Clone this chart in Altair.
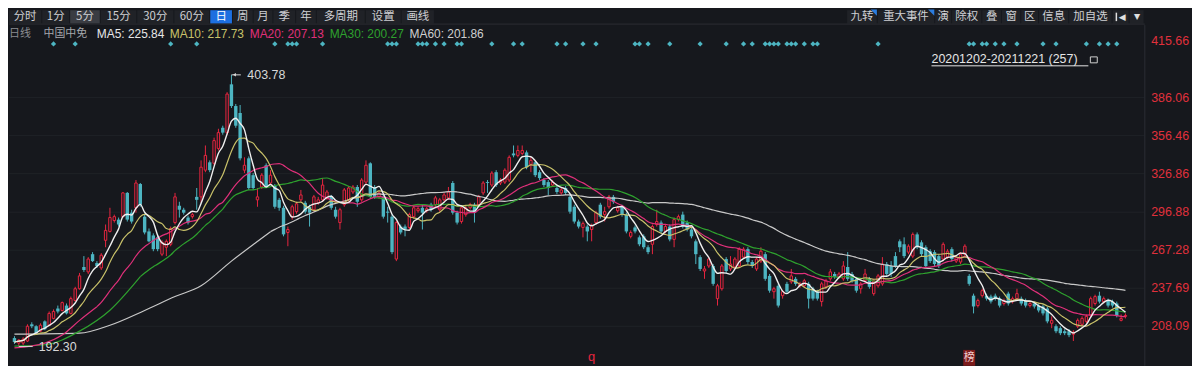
import altair as alt
import pandas as pd

# ---------------- data ----------------
opens = [198.9, 195.0, 195.0, 196.6, 209.6, 208.1, 204.3, 211.9, 208.9, 214.2,
         221.9, 220.4, 224.2, 218.1, 228.1, 237.3, 254.2, 250.4, 264.2, 257.3,
         253.5, 275.0, 281.9, 290.4, 291.1, 293.4, 311.9, 296.5, 300.3, 318.8,
         293.4, 281.9, 278.8, 277.3, 264.2, 269.6, 271.9, 288.8, 301.9, 298.8,
         292.7, 293.4, 308.8, 308.8, 329.6, 335.7, 334.9, 346.5, 362.6, 358.8,
         396.4, 379.5, 374.1, 329.6, 338.8, 325.7, 306.5, 316.5, 333.4, 319.6,
         317.3, 306.5, 300.3, 281.1, 293.4, 297.3, 306.5, 304.2, 301.1, 298.8,
         304.2, 306.5, 308.0, 308.8, 298.8, 288.8, 302.7, 306.5, 312.6, 316.5,
         306.5, 320.3, 334.9, 316.5, 308.8, 308.8, 297.3, 293.4, 260.4, 285.7,
         285.7, 285.0, 293.4, 298.0, 300.3, 298.0, 302.7, 302.7, 298.8, 306.5,
         308.0, 319.6, 296.5, 289.6, 295.0, 300.3, 302.7, 302.7, 311.9, 320.3,
         318.0, 328.0, 319.6, 320.3, 321.9, 342.6, 341.1, 342.6, 343.4, 334.2,
         335.7, 328.0, 321.9, 320.3, 318.0, 315.7, 311.9, 315.7, 308.8, 301.1,
         289.6, 285.0, 285.7, 283.4, 288.8, 302.7, 295.0, 301.1, 308.8, 298.0,
         301.1, 295.0, 278.1, 285.0, 277.3, 278.1, 269.6, 271.9, 287.3, 288.8,
         281.9, 285.7, 275.7, 291.1, 295.0, 288.8, 283.4, 274.2, 261.9, 251.1,
         255.0, 255.0, 229.6, 237.3, 260.4, 252.7, 254.2, 255.0, 261.9, 268.1,
         258.1, 252.7, 258.8, 264.2, 247.3, 235.0, 239.6, 231.9, 241.1, 242.7,
         245.0, 239.6, 239.6, 241.1, 237.3, 235.0, 227.3, 238.8, 245.0, 248.8,
         246.5, 245.0, 254.2, 248.8, 245.0, 237.3, 243.5, 245.0, 233.5, 239.6,
         241.1, 256.5, 255.0, 262.7, 274.2, 271.9, 265.8, 262.7, 279.6, 273.4,
         269.6, 266.5, 265.8, 262.7, 260.4, 261.9, 268.1, 258.8, 258.1, 264.2,
         247.3, 231.9, 224.2, 231.9, 231.9, 231.2, 231.9, 229.6, 225.8, 233.5,
         227.3, 229.6, 229.6, 228.1, 224.2, 225.8, 224.2, 223.5, 221.9, 210.4,
         208.1, 206.6, 204.2, 204.2, 201.9, 208.1, 209.6, 211.9, 216.5, 225.8,
         231.9, 227.3, 228.1, 227.3, 225.8, 212.7, 215.8]
highs = [200.4, 198.1, 199.6, 209.6, 211.2, 208.9, 210.4, 212.7, 219.6, 221.2,
         224.2, 227.3, 225.8, 231.2, 238.8, 249.6, 262.7, 261.9, 265.8, 258.8,
         265.0, 287.3, 300.3, 295.0, 292.7, 312.6, 312.6, 298.8, 321.9, 319.6,
         295.7, 284.2, 280.4, 278.8, 275.0, 275.7, 285.7, 311.9, 305.0, 300.3,
         294.2, 296.5, 315.7, 337.2, 348.8, 337.2, 354.9, 361.8, 364.2, 390.3,
         403.78, 381.1, 380.3, 339.6, 340.3, 327.3, 315.7, 327.3, 334.9, 329.6,
         318.8, 308.0, 301.9, 285.7, 302.7, 305.0, 314.2, 305.7, 302.7, 310.3,
         308.8, 323.4, 314.2, 310.3, 301.1, 300.3, 315.7, 317.3, 318.0, 318.0,
         323.4, 337.2, 335.7, 318.0, 313.4, 310.3, 301.1, 295.0, 290.4, 287.3,
         287.3, 296.5, 301.9, 301.1, 302.7, 301.1, 304.2, 309.6, 308.0, 311.9,
         316.5, 321.1, 298.0, 301.9, 301.9, 304.2, 304.2, 310.3, 321.1, 321.9,
         328.8, 329.6, 323.4, 331.1, 341.1, 348.8, 348.8, 348.8, 344.9, 339.6,
         337.2, 329.6, 323.4, 321.9, 321.9, 317.3, 315.7, 317.3, 310.3, 302.7,
         291.1, 289.6, 287.3, 288.0, 298.0, 304.2, 301.1, 310.3, 310.3, 301.9,
         302.7, 296.5, 282.7, 286.5, 278.8, 279.6, 271.1, 287.3, 298.8, 290.4,
         287.3, 287.3, 292.7, 295.0, 297.3, 290.4, 285.0, 275.7, 263.4, 255.0,
         261.9, 256.5, 241.1, 256.5, 261.9, 262.7, 261.9, 269.6, 269.6, 269.6,
         259.6, 261.9, 269.6, 265.8, 248.8, 238.8, 241.1, 236.5, 242.7, 252.7,
         246.5, 242.7, 245.0, 242.7, 238.8, 236.5, 242.7, 245.0, 252.7, 250.4,
         250.4, 258.8, 265.8, 250.4, 246.5, 242.7, 252.7, 246.5, 245.0, 248.8,
         261.9, 258.1, 258.8, 265.8, 275.7, 277.3, 271.9, 281.1, 281.1, 275.0,
         271.1, 268.1, 267.3, 264.2, 273.4, 268.1, 269.6, 263.4, 265.8, 271.9,
         248.8, 233.5, 229.6, 237.3, 233.5, 232.7, 233.5, 231.2, 229.6, 235.0,
         231.2, 237.3, 231.2, 229.6, 227.3, 227.3, 225.8, 225.0, 223.5, 215.8,
         209.6, 208.1, 205.8, 205.8, 205.0, 214.2, 215.8, 217.3, 231.2, 232.7,
         235.0, 231.2, 229.6, 228.8, 227.3, 217.3, 218.1]
lows = [194.3, 192.3, 193.5, 195.8, 206.6, 201.9, 203.5, 205.0, 208.1, 213.5,
        218.1, 219.6, 217.3, 217.3, 227.3, 236.5, 250.4, 248.8, 258.1, 253.5,
        251.9, 269.6, 281.1, 288.8, 285.7, 292.7, 289.6, 288.0, 296.5, 301.1,
        279.6, 273.4, 266.5, 266.5, 262.7, 262.7, 270.4, 287.3, 292.7, 295.0,
        287.3, 291.9, 298.8, 304.2, 328.0, 328.0, 333.4, 344.9, 357.2, 357.2,
        378.0, 362.6, 337.2, 327.3, 314.2, 314.2, 301.1, 314.9, 315.7, 318.0,
        299.6, 298.0, 278.1, 270.4, 291.1, 295.7, 305.0, 295.7, 285.7, 297.3,
        302.7, 305.0, 306.5, 298.8, 291.9, 283.4, 301.1, 305.0, 311.1, 301.1,
        305.0, 318.8, 307.3, 307.3, 307.3, 291.9, 288.8, 264.2, 258.8, 279.6,
        278.1, 283.4, 291.9, 296.5, 283.4, 296.5, 297.3, 301.1, 297.3, 305.0,
        306.5, 295.0, 287.3, 288.0, 293.4, 298.8, 288.8, 301.1, 310.3, 311.9,
        316.5, 316.5, 318.0, 318.8, 320.3, 339.6, 339.6, 341.1, 330.3, 328.0,
        324.2, 321.9, 316.5, 310.3, 316.5, 311.1, 310.3, 310.3, 295.7, 288.0,
        284.2, 277.3, 274.2, 274.2, 287.3, 291.9, 289.6, 299.6, 303.4, 296.5,
        293.4, 280.4, 276.5, 280.4, 270.4, 268.1, 264.2, 264.2, 285.7, 280.4,
        280.4, 274.2, 269.6, 289.6, 284.2, 281.9, 276.5, 256.5, 251.1, 245.0,
        253.5, 239.6, 224.2, 235.8, 249.6, 251.1, 252.7, 253.5, 260.4, 256.5,
        253.5, 251.1, 257.3, 243.5, 234.2, 229.6, 222.7, 229.6, 233.5, 241.1,
        239.6, 238.1, 238.1, 221.9, 228.1, 228.1, 223.5, 237.3, 243.5, 245.0,
        245.0, 243.5, 243.5, 241.9, 234.2, 233.5, 241.9, 237.3, 231.9, 238.1,
        239.6, 247.3, 246.5, 253.5, 265.8, 261.1, 264.2, 261.1, 268.1, 262.7,
        253.5, 257.3, 255.0, 253.5, 258.8, 260.4, 258.8, 257.3, 256.5, 262.7,
        239.6, 218.1, 222.7, 230.4, 228.1, 225.8, 228.1, 222.7, 224.2, 224.2,
        225.8, 228.1, 224.2, 222.7, 222.7, 221.9, 218.9, 216.5, 210.4, 206.6,
        202.7, 201.2, 201.2, 199.6, 196.6, 206.6, 208.1, 210.4, 215.0, 224.2,
        225.8, 225.8, 222.7, 222.7, 215.0, 211.9, 214.2]
closes = [195.8, 197.3, 198.1, 208.1, 208.1, 202.7, 208.9, 205.8, 218.1, 219.6,
          219.6, 226.5, 218.1, 229.6, 237.3, 247.3, 251.9, 260.4, 258.8, 255.0,
          263.4, 282.7, 292.7, 293.4, 287.3, 311.9, 291.1, 289.6, 319.6, 302.7,
          281.1, 274.2, 268.1, 268.1, 273.4, 274.2, 284.2, 308.8, 298.8, 296.5,
          288.8, 295.0, 306.5, 331.9, 341.1, 329.6, 352.6, 358.8, 358.8, 388.8,
          379.5, 364.2, 338.8, 333.4, 315.7, 315.7, 308.8, 325.7, 316.5, 325.7,
          301.1, 300.3, 279.6, 283.4, 301.1, 303.4, 310.3, 297.3, 296.5, 308.8,
          306.5, 318.0, 312.6, 300.3, 293.4, 298.8, 314.2, 315.7, 316.5, 305.0,
          321.9, 333.4, 308.8, 308.8, 311.9, 293.4, 296.5, 265.8, 288.8, 281.1,
          283.4, 295.0, 300.3, 299.6, 296.5, 299.6, 298.8, 308.0, 306.5, 310.3,
          312.6, 296.5, 288.8, 300.3, 300.3, 302.7, 296.5, 308.8, 319.6, 319.6,
          327.3, 318.0, 321.9, 329.6, 339.6, 341.1, 344.9, 344.9, 331.9, 337.2,
          325.7, 323.4, 318.0, 315.7, 320.3, 312.6, 314.2, 311.9, 297.3, 289.6,
          285.7, 288.0, 281.9, 286.5, 296.5, 293.4, 297.3, 308.8, 305.0, 300.3,
          295.0, 281.9, 281.1, 281.9, 271.9, 269.6, 265.8, 285.7, 289.6, 281.9,
          285.7, 275.7, 291.1, 293.4, 285.7, 283.4, 278.1, 264.2, 252.7, 252.7,
          260.4, 241.1, 239.6, 255.0, 251.1, 256.5, 260.4, 268.1, 268.1, 258.1,
          255.0, 260.4, 266.5, 245.0, 235.8, 237.3, 224.2, 235.0, 235.0, 247.3,
          241.1, 241.1, 243.5, 229.6, 229.6, 229.6, 241.1, 243.5, 250.4, 246.5,
          248.8, 255.0, 245.0, 243.5, 235.8, 241.1, 248.8, 238.8, 243.5, 247.3,
          256.5, 248.8, 248.8, 255.0, 269.6, 262.7, 270.4, 279.6, 269.6, 264.2,
          255.0, 258.8, 256.5, 255.0, 271.9, 266.5, 260.4, 261.9, 264.2, 270.4,
          241.1, 223.5, 228.1, 235.8, 229.6, 227.3, 229.6, 224.2, 228.1, 225.8,
          229.6, 233.5, 225.8, 224.2, 225.8, 223.5, 220.4, 218.1, 211.9, 212.7,
          204.2, 202.7, 202.7, 201.2, 203.5, 212.7, 214.2, 215.8, 229.6, 231.2,
          227.3, 229.6, 224.2, 224.2, 216.5, 214.2, 216.5]

# signal diamonds (candle index)
signal_idx = [9, 14, 36, 42, 60, 63, 64, 65, 71, 86, 87, 88, 93, 94, 95, 97, 99,
              102, 103, 110, 115, 117, 125, 127, 131, 134, 143, 144, 146, 151,
              158, 164, 168, 170, 173, 174, 175, 176, 178, 179, 180, 182, 184,
              185, 199, 220, 221, 223, 224, 226, 228, 231, 237, 240, 247, 250,
              252, 254]

# moving averages at the left edge (lines already running before the window)
ma20_head_idx = [0, 7, 11, 15, 19]
ma20_head = [191.2, 195.0, 201.2, 212.7, 223.3]
ma30_head_idx = [0, 7, 15, 22, 29]
ma30_head = [192.7, 193.7, 204.3, 220.6, 246.7]
ma60_head_idx = [0, 15, 22, 30, 37, 43, 50, 59]
ma60_head = [201.9, 202.7, 208.9, 220.4, 231.2, 239.6, 258.8, 281.7]

tick_values = [386.06, 356.46, 326.86, 296.88, 267.28, 237.69, 208.09]
tick_labels = ["386.06", "356.46", "326.86", "296.88", "267.28", "237.69", "208.09"]
top_label = "415.66"
max_idx, max_val = 50, 403.78
min_idx, min_val = 1, 192.30

left_tools = ["分时", "1分", "5分", "15分", "30分", "60分", "日", "周", "月", "季", "年", "多周期", "设置", "画线"]
right_tools = ["九转", "重大事件", "演", "除权", "叠", "窗", "区", "信息", "加自选"]
header = [("日线", "#8b8d92"), ("中国中免", "#a6a8ad"), ("MA5: 225.84", "#e6e6e6"),
          ("MA10: 217.73", "#c9c26a"), ("MA20: 207.13", "#e0307a"),
          ("MA30: 200.27", "#2ea12e"), ("MA60: 201.86", "#cfcfcf")]
date_range = "20201202-20211221 (257)"
event_q_idx = 133
event_bang_idx = 220

# ---------------- style ----------------
BG = "#16181d"
RED = "#e8253f"
CYAN = "#4db5c2"
LABEL_RED = "#e0303c"
CJK = "Noto Sans CJK SC"
NUM = "Liberation Sans"
W, H = 1192, 358
K = 0.9933

df = pd.DataFrame({"i": list(range(len(opens))), "o": opens, "h": highs, "l": lows, "c": closes})

xs = alt.Scale(domain=[-0.113, 270.19], nice=False, zero=False)
ys = alt.Scale(domain=[178.87, 454.10], nice=False, zero=False)
X = alt.X("i:Q", scale=xs, axis=None)


def Y(f):
    return alt.Y(f, scale=ys, axis=None)


def one():
    return alt.Chart(pd.DataFrame({"a": [0]}))


def T(s, x, y, color, size=12, font=NUM, align="left", weight="normal"):
    return alt.Chart(pd.DataFrame({"t": [s]})).mark_text(
        align=align, baseline="middle", font=font, fontSize=size, color=color, fontWeight=weight
    ).encode(x=alt.value(x), y=alt.value(y), text="t:N")


def R(x0, x1, y0, y1, color):
    return one().mark_rect(color=color).encode(
        x=alt.value(x0), x2=alt.value(x1), y=alt.value(y0), y2=alt.value(y1))


layers = []

# toolbar
TB_Y = 6.5
lb = [0, 33.7, 62, 93, 130, 167.6, 204, 227, 248, 268, 291, 312, 361.6, 398, 431.7]
for k, lab in enumerate(left_tools):
    x0, x1 = lb[k] * K, lb[k + 1] * K - 1
    col = "#202227"
    tc = "#cfd0d3"
    if lab == "5分":
        col = "#3a3c42"
    if lab == "日":
        col = "#1d6fe0"
        tc = "#ffffff"
    layers.append(R(x0, x1, 0, 13.5, col))
    layers.append(T(lab, (x0 + x1) / 2, TB_Y, tc, size=11.5, font=CJK, align="center"))

rb = [849.5, 880.5, 938.7, 955.9, 986.5, 1006.4, 1026, 1044, 1074.6, 1118.6, 1135.8, 1151]
for k in range(len(rb) - 1):
    x0, x1 = rb[k] * K, rb[k + 1] * K - 1
    layers.append(R(x0, x1, 0, 13.5, "#202227"))
    if k < len(right_tools):
        layers.append(T(right_tools[k], (x0 + x1) / 2, TB_Y, "#cfd0d3", size=11.5, font=CJK, align="center"))
layers.append(T("◀", (rb[9] + rb[10]) / 2 * K + 1, TB_Y, "#e0e0e0", size=9, font="DejaVu Sans", align="center"))
layers.append(R(rb[9] * K + 3, rb[9] * K + 4.5, 2.5, 11, "#e0e0e0"))
layers.append(T("▼", (rb[10] + rb[11]) / 2 * K, TB_Y, "#e0e0e0", size=8, font="DejaVu Sans", align="center"))
for xr in (rb[1], rb[2]):
    layers.append(one().mark_point(shape="M-1,-1L1,-1L1,1Z", filled=True, size=40, color="#2b7de0", opacity=1)
                  .encode(x=alt.value(xr * K - 4), y=alt.value(2.5)))
layers.append(one().mark_rule(color="#2a2d33").encode(x=alt.value(0), x2=alt.value(1143.5), y=alt.value(14)))

# header row
hx = [0, 35, 89, 163, 244, 325, 406]
for (s, col), x in zip(header, hx):
    cjk = s[0] in "日中"
    layers.append(T(s, x * K, 23.5, col, size=11 if cjk else 12, font=CJK if cjk else NUM))

# grid
grid = alt.Chart(pd.DataFrame({"v": tick_values})).mark_rule(color="#1f2227", strokeWidth=1).encode(
    y=Y("v:Q"), x=alt.value(0), x2=alt.value(1143))
layers.append(grid)

# right axis separator
layers.append(one().mark_rule(color="#2a2d33").encode(x=alt.value(1143.5), y=alt.value(15), y2=alt.value(H)))

# candles
up = alt.Chart(df).transform_filter("datum.c >= datum.o")
dn = alt.Chart(df).transform_filter("datum.c < datum.o")
layers.append(up.mark_rule(color=RED, strokeWidth=1).encode(x=X, y=Y("h:Q"), y2="l:Q"))
layers.append(dn.mark_rule(color=CYAN, strokeWidth=1).encode(x=X, y=Y("h:Q"), y2="l:Q"))
layers.append(up.mark_bar(size=2.4, fill=BG, stroke=RED, strokeWidth=1).encode(x=X, y=Y("o:Q"), y2="c:Q"))
layers.append(dn.mark_bar(size=3.4, color=CYAN).encode(x=X, y=Y("o:Q"), y2="c:Q"))


# moving averages
def ma_line(n, color, width=1.2, from_full=True):
    ch = alt.Chart(df).transform_window(ma="mean(c)", frame=[-(n - 1), 0], sort=[alt.SortField("i")])
    if from_full:
        ch = ch.transform_filter(f"datum.i >= {n - 1}")
    return ch.mark_line(color=color, strokeWidth=width, interpolate="monotone").encode(x=X, y=Y("ma:Q"))


def head_line(idx, vals, color, width=1.2):
    return alt.Chart(pd.DataFrame({"i": idx, "v": vals})).mark_line(
        color=color, strokeWidth=width, interpolate="monotone").encode(x=X, y=Y("v:Q"))


layers.append(ma_line(60, "#c9c9c9"))
layers.append(head_line(ma60_head_idx, ma60_head, "#c9c9c9"))
layers.append(ma_line(30, "#2ea12e"))
layers.append(head_line(ma30_head_idx, ma30_head, "#2ea12e"))
layers.append(ma_line(20, "#e0307a"))
layers.append(head_line(ma20_head_idx, ma20_head, "#e0307a"))
layers.append(ma_line(10, "#c9c26a", from_full=False))
layers.append(ma_line(5, "#efefef", width=1.4, from_full=False))

# max / min markers
mx = alt.Chart(pd.DataFrame({"i": [max_idx], "v": [max_val], "t": [f"{max_val:.2f}"]}))
layers.append(mx.mark_rule(color="#d8d8d8").encode(x=X, y=Y("v:Q"), x2=alt.value(235 * K)))
layers.append(mx.mark_point(shape="triangle-left", filled=True, size=12, color="#d8d8d8", xOffset=3, opacity=1)
              .encode(x=X, y=Y("v:Q")))
layers.append(mx.mark_text(align="left", baseline="middle", font=NUM, fontSize=12.5, color="#d8d8d8", dx=16)
              .encode(x=X, y=Y("v:Q"), text="t:N"))
mn = alt.Chart(pd.DataFrame({"i": [min_idx], "v": [min_val], "t": [f"{min_val:.2f}"]}))
layers.append(mn.mark_rule(color="#d8d8d8").encode(x=X, y=Y("v:Q"), x2=alt.value(24 * K)))
layers.append(mn.mark_text(align="left", baseline="middle", font=NUM, fontSize=12.5, color="#d8d8d8", dx=20)
              .encode(x=X, y=Y("v:Q"), text="t:N"))

# signal diamonds
layers.append(alt.Chart(pd.DataFrame({"i": signal_idx})).mark_point(
    shape="diamond", filled=True, size=28, color=CYAN, opacity=1).encode(x=X, y=alt.value(34)))

# axis labels
layers.append(alt.Chart(pd.DataFrame({"v": tick_values, "t": tick_labels})).mark_text(
    align="center", baseline="middle", font=NUM, fontSize=12.5, color=LABEL_RED).encode(
    x=alt.value(1169), y=Y("v:Q"), text="t:N"))
layers.append(T(top_label, 1169, 31, LABEL_RED, size=12.5, align="center"))

# date range
layers.append(T(date_range, 935 * K, 49, "#e6e6e6", size=12.5))
layers.append(one().mark_rule(color="#e6e6e6").encode(x=alt.value(935 * K), x2=alt.value(1094 * K), y=alt.value(56)))
layers.append(one().mark_rect(fill=BG, stroke="#d0d0d0", strokeWidth=1).encode(
    x=alt.value(1096 * K), x2=alt.value(1103 * K), y=alt.value(47), y2=alt.value(53)))

# bottom event markers
layers.append(alt.Chart(pd.DataFrame({"i": [event_q_idx], "t": ["q"]})).mark_text(
    font=NUM, fontSize=13, color=RED, baseline="middle").encode(x=X, y=alt.value(349), text="t:N"))
bang = alt.Chart(pd.DataFrame({"i": [event_bang_idx], "t": ["榜"]}))
layers.append(bang.mark_bar(size=12, color="#7d1c1c").encode(x=X, y=alt.value(342), y2=alt.value(358)))
layers.append(bang.mark_text(font=CJK, fontSize=11, color="#f0d0d0", baseline="middle").encode(
    x=X, y=alt.value(350), text="t:N"))

chart = alt.layer(*layers).properties(
    width=W, height=H, padding=0, background=BG,
    autosize=alt.AutoSizeParams(type="fit", contains="padding"),
).configure_view(strokeWidth=0)

chart.save("out.html", embed_options={"renderer": "svg", "actions": False})
